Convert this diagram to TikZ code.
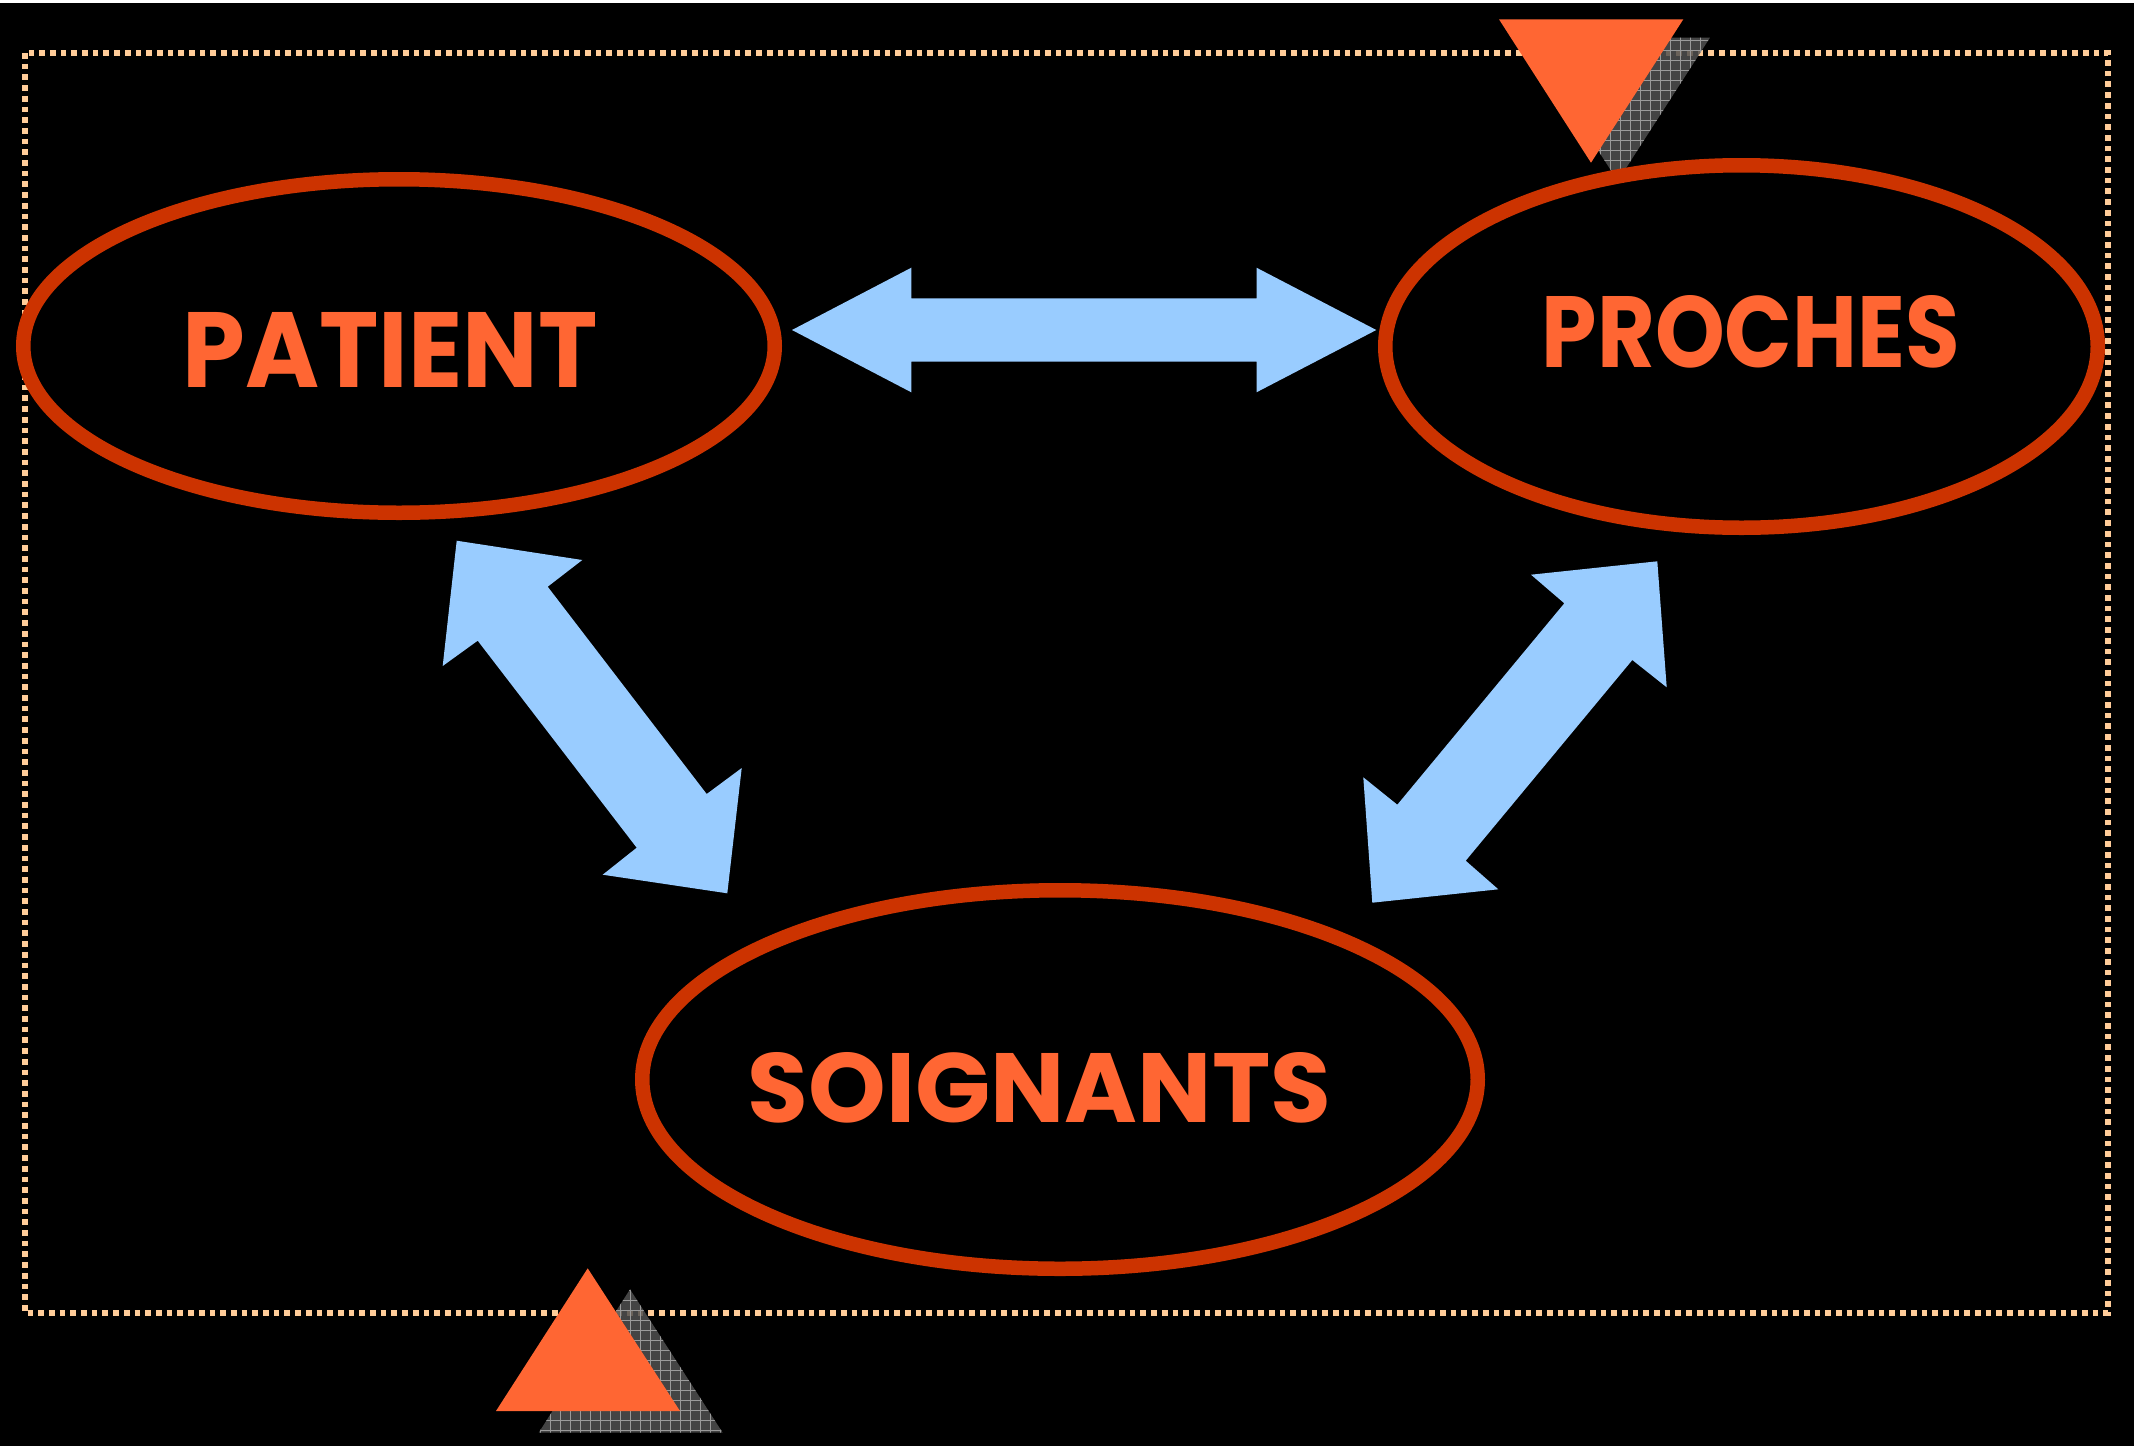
\documentclass[tikz,border=0pt]{standalone}
\usepackage{fontspec}
\setmainfont{Poppins}
\usetikzlibrary{shapes.geometric}
\definecolor{ellred}{HTML}{CC3300}
\definecolor{txtorange}{HTML}{FF6633}
\definecolor{arrowblue}{HTML}{99CCFF}
\definecolor{dotpeach}{HTML}{FFCC99}
\definecolor{shadowgray}{HTML}{505050}
\definecolor{gridgray}{HTML}{9A9A9A}
\begin{document}
\begin{tikzpicture}[x=1pt,y=-1pt,
  ring/.style={ellipse, draw=ellred, line width=14.5pt, fill=black, inner sep=0pt, outer sep=0pt},
  lbl/.style={text=txtorange, inner sep=0pt, font=\bfseries},
  blockarrow/.style={fill=arrowblue},
  bordline/.style={draw=dotpeach, line width=6pt, dash pattern=on 5.7pt off 5pt},
  tri/.style={fill=txtorange},
  shadowfill/.style={fill=shadowgray, fill opacity=0.85},
  shadowgrid/.style={draw=gridgray, line width=0.9pt}]
\useasboundingbox (0,0) rectangle (2134,1446);
\fill[black] (0,0) rectangle (2134,1446);
\fill[white] (0,0) rectangle (2134,3);
% dotted frame
\draw[bordline] (25,53) rectangle (2108,1313);
% shadows of triangles
\begin{scope}
  \clip (1525.7,37.6) -- (1710,37.6) -- (1617.7,181) -- cycle;
  \fill[shadowfill] (1520,30) rectangle (1715,185);
  \draw[shadowgrid, step=10pt] (1520,30) grid (1715,185);
\end{scope}
\begin{scope}
  \clip (630,1289.3) -- (722.7,1432.7) -- (538.7,1432.7) -- cycle;
  \fill[shadowfill] (535,1285) rectangle (725,1435);
  \draw[shadowgrid, step=10pt] (535,1285) grid (725,1435);
\end{scope}
% orange triangles
\fill[tri] (1499,19.3) -- (1683.3,19.3) -- (1591,162.7) -- cycle;
\fill[tri] (587.7,1268.3) -- (680,1411) -- (496,1411) -- cycle;
% ellipses
\node[ring, minimum width=751.5pt, minimum height=333.5pt] (patient) at (399,346) {};
\node[ring, minimum width=712.5pt, minimum height=362.5pt] (proches) at (1741.5,346.5) {};
\node[ring, minimum width=835.5pt, minimum height=378.5pt] (soignants) at (1060,1079.5) {};
% block arrows
\fill[blockarrow] (792,330) -- (911.3,267.7) -- (911.3,298.3) -- (1256.5,298.3) -- (1256.5,267.7)
  -- (1376.3,330) -- (1256.5,392.3) -- (1256.5,361.7) -- (911.3,361.7) -- (911.3,392.3) -- cycle;
\fill[blockarrow] (456.7,540.7) -- (582.3,560) -- (547.7,586.7) -- (706.7,794) -- (741.7,768)
  -- (727.3,893.3) -- (602.7,874.7) -- (636.7,847.7) -- (477.7,640.7) -- (442.7,666) -- cycle;
\fill[blockarrow] (1657.3,561.3) -- (1666.7,687.3) -- (1632.3,660) -- (1465.7,860.7) -- (1498.3,889.3)
  -- (1372.3,902.7) -- (1363.3,777.3) -- (1397.3,804.7) -- (1564.3,603.3) -- (1531,574.7) -- cycle;
% labels
\node[lbl] (patienttext) at (390,349.5) {\resizebox{415pt}{75pt}{PATIENT}};
\node[lbl] (prochestext) at (1751,332) {\resizebox{418pt}{72pt}{PROCHES}};
\node[lbl] (soignantstext) at (1039.5,1088) {\resizebox{583pt}{70pt}{SOIGNANTS}};
\end{tikzpicture}
\end{document}
